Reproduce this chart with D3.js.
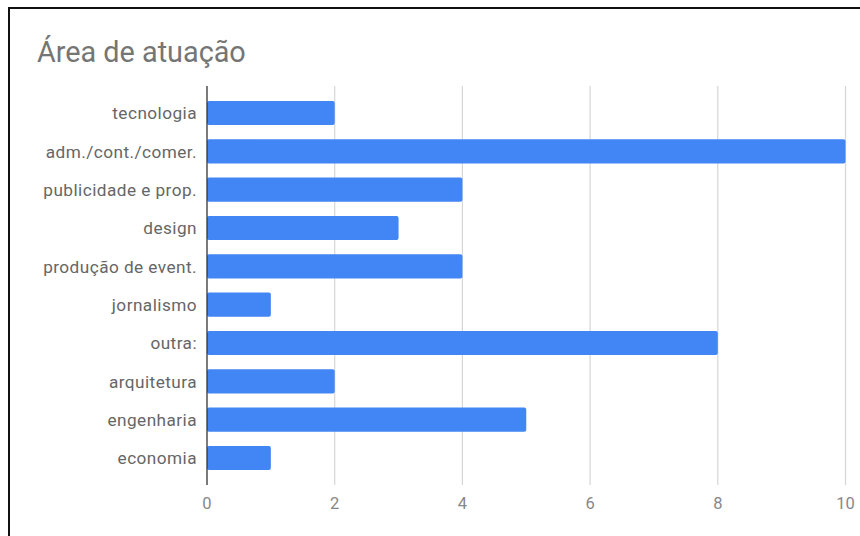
<!DOCTYPE html>
<html><head><meta charset="utf-8">
<script src="https://cdn.jsdelivr.net/npm/d3@7"></script>
<style>
html,body{margin:0;padding:0;background:#fff;}
svg{display:block;}
</style>
</head><body>
<script>
const categories = ["tecnologia","adm./cont./comer.","publicidade e prop.","design","produção de event.","jornalismo","outra:","arquitetura","engenharia","economia"];
const values = [2,10,4,3,4,1,8,2,5,1];
const xTicks = [0,2,4,6,8,10];
const title = "Área de atuação";

const W = 860, H = 536;
const svg = d3.select("body").append("svg").attr("width", W).attr("height", H);
svg.append("rect").attr("x",0).attr("y",0).attr("width",W).attr("height",H).attr("fill","#fff");
// frame (left and top visible)
svg.append("path").attr("d","M9,540 L9,8 L870,8").attr("fill","none").attr("stroke","#111").attr("stroke-width",2);

svg.append("text").attr("x",37).attr("y",62).text(title)
  .attr("font-family","Roboto, 'Noto Sans', sans-serif").attr("font-size",28.8).attr("fill","#757575");

const x = d3.scaleLinear().domain([0,10]).range([207,845.5]);
const y = d3.scaleBand().domain(categories).range([93.8,477.2]).paddingInner(0.37).paddingOuter(0.185);
const gTop = 86, gBot = 485;

// gridlines
svg.append("g").selectAll("line").data(xTicks.filter(d=>d!==0)).join("line")
  .attr("x1",d=>x(d)).attr("x2",d=>x(d)).attr("y1",gTop).attr("y2",gBot)
  .attr("stroke","#d6d6d6").attr("stroke-width",1.2);

// bars
svg.append("g").selectAll("rect").data(categories).join("rect")
  .attr("x",x(0)).attr("y",d=>y(d))
  .attr("width",(d,i)=>x(values[i])-x(0)).attr("height",y.bandwidth())
  .attr("rx",2).attr("fill","#4285f4");

// zero line
svg.append("line").attr("x1",x(0)).attr("x2",x(0)).attr("y1",gTop).attr("y2",gBot)
  .attr("stroke","#333").attr("stroke-width",1.3);

// y labels
svg.append("g").selectAll("text").data(categories).join("text")
  .attr("x",197).attr("y",d=>y(d)+y.bandwidth()/2).attr("dy","0.36em")
  .attr("text-anchor","end").text(d=>d)
  .attr("letter-spacing",0.45)
  .attr("font-family","Roboto, 'Noto Sans', sans-serif").attr("font-size",17.2).attr("fill","#666");

// x tick labels
svg.append("g").selectAll("text").data(xTicks).join("text")
  .attr("x",d=>x(d)).attr("y",509).attr("text-anchor","middle").text(d=>d)
  .attr("font-family","Roboto, 'Noto Sans', sans-serif").attr("font-size",16.5).attr("fill","#888");
</script>
</body></html>
